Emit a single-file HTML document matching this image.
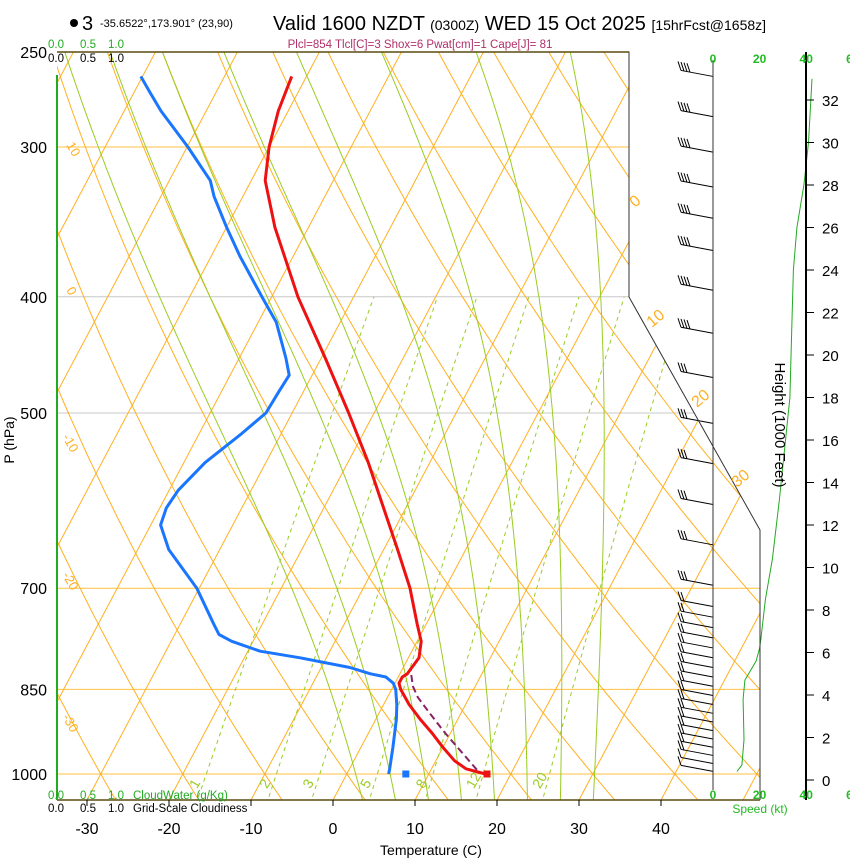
<!DOCTYPE html>
<html><head><meta charset="utf-8"><style>
html,body{margin:0;padding:0;background:#fff;}
svg{display:block;font-family:"Liberation Sans",sans-serif;}
</style></head><body>
<svg id="c" width="850" height="860" viewBox="0 0 850 860" xmlns="http://www.w3.org/2000/svg">
<defs><clipPath id="plotclip"><polygon points="57,52 629,52 629,297 760,530 760,800 57,800"/></clipPath></defs>
<g>
<circle cx="74" cy="23" r="4" fill="#000"/>
<text x="82" y="30" font-size="20">3</text>
<text x="100" y="27" font-size="11">-35.6522°,173.901° (23,90)</text>
<text x="273" y="30" font-size="20">Valid 1600 NZDT <tspan font-size="14">(0300Z)</tspan> WED 15 Oct 2025 <tspan font-size="14">[15hrFcst@1658z]</tspan></text>
<text x="420" y="48" font-size="11.5" fill="#b0306a" text-anchor="middle">Plcl=854 Tlcl[C]=3 Shox=6 Pwat[cm]=1 Cape[J]= 81</text>
</g>
<g id="bg" clip-path="url(#plotclip)"></g>
<g id="marks"></g>
<g id="axes"></g>
</svg>
<script>
const presT=[1000,990,975,950,925,900,875,850,840,830,825,800,775,750,700,650,600,550,500,450,400,350,320,300,280,262];
const tempT=[16.9,14.2,12.3,10.0,7.8,5.4,3.1,1.1,0.5,0.5,0.9,1.3,0.5,-1.1,-4.3,-8.3,-12.7,-17.5,-23.1,-29.5,-36.8,-44.1,-48.3,-50.0,-51.2,-51.8];
const presTd=[1000,990,950,900,875,850,840,830,825,815,800,790,775,765,750,700,650,620,600,580,550,520,500,480,465,450,420,400,370,350,330,320,300,280,270,262];
const tempTd=[5.1,4.9,3.9,2.5,1.6,0.5,-0.2,-1.5,-3.6,-6.5,-13.2,-18.5,-22.6,-24.6,-25.9,-30.3,-36.2,-38.8,-39.2,-38.9,-37.4,-34.8,-33.2,-33.0,-32.8,-34.3,-37.8,-41.2,-46.5,-50.0,-53.5,-55.0,-59.9,-65.5,-68.1,-70.2];
const parcelP=[992,959,924,890,863,845,816];
const parcelT=[15.6,12.6,9.3,6.2,3.7,2.4,0.9];
const sfcT=[17.1];
const sfcTd=[7.2];
const barbP=[262,283,303,324,344,366,395,429,467,510,551,596,644,696,725,740,755,770,785,800,815,830,845,860,875,890,905,920,935,950,965,980,995];
const barbSpd=[40,40,40,40,40,40,35,35,30,30,30,25,25,25,20,20,20,20,20,15,15,15,15,15,15,15,15,15,15,15,15,10,10];
const spdHeight=[0.4,0.7,1.9,3.8,4.7,5.6,6.2,6.6,8.5,10.4,13.2,18.0,22.0,24.0,26.0,28.0,30.0,33.0];
const spdValue=[10.3,12.4,13.3,12.9,13.7,18.5,20.0,20.5,22.5,25.5,28.5,33.0,34.0,34.5,36.0,39.0,41.0,42.5];
const pTicks=[250,300,400,500,700,850,1000];
const tTicks=[-30,-20,-10,0,10,20,30,40];
const hTicks=[0,2,4,6,8,10,12,14,16,18,20,22,24,26,28,30,32];
const spdTicks=[0,20,40,60];
const wTicks=[1,2,3,5,8,12,20];
const moistStarts=[4,8,12,16,20,24,28,32];

const NS="http://www.w3.org/2000/svg";
const X0=333,WT=8.2,K=0.53,Y1000=774,B=520.8;
function yOf(p){return Y1000+B*Math.log(p/1000);}
function xOf(T,p){return X0+WT*T+K*(800-yOf(p));}
function xSpd(s){return 713+s*2.33;}
function yH(h){return 780-h*21.25;}
function mk(tag,attrs,parent){const e=document.createElementNS(NS,tag);for(const k in attrs)e.setAttribute(k,attrs[k]);parent.appendChild(e);return e;}
const bg=document.getElementById('bg'),marks=document.getElementById('marks'),axes=document.getElementById('axes');
const OR="#ffb020",GR="#99cc22";
[250,300,400,500,700,850,1000].forEach(p=>{
  const l=mk('line',{x1:57,x2:760,y1:yOf(p),y2:yOf(p),stroke:(p>=700||p==300)?"#ffc040":"#c8c8c8","stroke-width":1},bg);
  
  
});
for(let T=-110;T<=50;T+=10){
  const l=mk('line',{x1:xOf(T,1060),y1:yOf(1060),x2:xOf(T,240),y2:yOf(240),stroke:OR,"stroke-width":1},bg);
  
  
}
for(let th=-40;th<=190;th+=10){
  let d="";for(let p=1060;p>=240;p-=10){const T=(th+273.15)*Math.pow(p/1000,0.2857)-273.15;d+=(d?"L":"M")+xOf(T,p).toFixed(1)+","+yOf(p).toFixed(1);}
  const l=mk('path',{d:d,fill:"none",stroke:OR,"stroke-width":1},bg);
  
  
}
function es(Tc){return 6.112*Math.exp(17.67*Tc/(Tc+243.5));}
moistStarts.forEach(t0=>{
  let T=t0+273.15,d="";
  for(let p=1060;p>=240;p-=2){
    d+=(d?"L":"M")+xOf(T-273.15,p).toFixed(1)+","+yOf(p).toFixed(1);
    const e=es(T-273.15),rs=0.622*e/(p-e);
    const dTdp=(287*T+2.5e6*rs)/(p*(1005+2.5e6*2.5e6*rs*0.622/(287*T*T)));
    T-=dTdp*2;
  }
  const l=mk('path',{d:d,fill:"none",stroke:GR,"stroke-width":1},bg);
  
  
});
wTicks.forEach(w=>{
  let d="";
  for(let p=1060;p>=400;p-=10){const e=w*p/(622+w);const lg=Math.log(e/6.112);const Td=243.5*lg/(17.67-lg);d+=(d?"L":"M")+xOf(Td,p).toFixed(1)+","+yOf(p).toFixed(1);}
  const l=mk('path',{d:d,fill:"none",stroke:GR,"stroke-width":1,"stroke-dasharray":"4,4"},bg);
  
  
  const e=w*1000/(622+w),lg=Math.log(e/6.112),Td=243.5*lg/(17.67-lg);
  const lx=xOf(Td,1020)-4,ly=yOf(1020)+5;
  const t=mk('text',{x:lx,y:ly,"font-size":14,fill:GR,transform:`rotate(-60 ${lx} ${ly})`},axes);
  t.textContent=w;
  
  
});
const bd=mk('path',{d:"M57,52 L629,52 L629,297 L760,530 L760,800",fill:"none",stroke:"#333","stroke-width":1},axes);


const bl=mk('line',{x1:57,x2:760,y1:800,y2:800,stroke:"#5a4a10","stroke-width":1.5},axes);


const tl=mk('line',{x1:57,x2:629,y1:52,y2:52,stroke:"#5a4a10","stroke-width":1.5},axes);


const cw=mk('line',{x1:57,x2:57,y1:75,y2:800,stroke:"#22aa22","stroke-width":2},axes);


[[66,145,"10"],[66,290,"0"],[62,437,"-10"],[62,575,"-20"],[62,717,"-30"]].forEach(a=>{
  const t=mk('text',{x:a[0],y:a[1],"font-size":13,fill:OR,transform:`rotate(60 ${a[0]} ${a[1]})`},axes);t.textContent=a[2];
  
  
});
[[635,208,"0"],[652,328,"10"],[697,408,"20"],[737,488,"30"]].forEach(a=>{
  const t=mk('text',{x:a[0],y:a[1],"font-size":16,fill:OR,transform:`rotate(-40 ${a[0]} ${a[1]})`},axes);t.textContent=a[2];
  
  
});
pTicks.forEach(p=>{
  const t=mk('text',{x:47,y:yOf(p)+6,"font-size":16,"text-anchor":"end"},axes);t.textContent=p;
  
  
});
const yt=mk('text',{x:14,y:440,"font-size":14,"text-anchor":"middle",transform:"rotate(-90 14 440)"},axes);yt.textContent="P (hPa)";


tTicks.forEach(T=>{
  const x=X0+WT*T;
  mk('line',{x1:x,x2:x,y1:800,y2:806,stroke:"#000"},axes);
  const t=mk('text',{x:x,y:834,"font-size":16,"text-anchor":"middle"},axes);t.textContent=T;
  
  
});
const xt=mk('text',{x:431,y:855,"font-size":14,"text-anchor":"middle"},axes);xt.textContent="Temperature (C)";


// cloud scale labels
const cloudVals=["0.0","0.5","1.0"];
const cloudX=[48,80,108];
[[799,"#22aa22","CloudWater (g/Kg)","cloudwater-legend"],[812,"#000","Grid-Scale Cloudiness","cloudiness-legend"],[48,"#22aa22","","cloudwater-scale-top"],[62,"#000","","cloudiness-scale-top"]].forEach(a=>{
  const g=mk('g',{"font-size":11.5,fill:a[1]},axes);
  
  
  cloudVals.forEach((v,i)=>{const t=mk('text',{x:cloudX[i],y:a[0]},g);t.textContent=v;});
  if(a[2]){const t=mk('text',{x:133,y:a[0]},g);t.textContent=a[2];}
});
const st=mk('line',{x1:713,x2:713,y1:60,y2:790,stroke:"#333",'stroke-width':1},axes);


const ha=mk('line',{x1:806,x2:806,y1:52,y2:800,stroke:"#000","stroke-width":2},axes);


hTicks.forEach(h=>{
  mk('line',{x1:806,x2:814,y1:yH(h),y2:yH(h),stroke:"#000"},axes);
  const t=mk('text',{x:822,y:yH(h)+6,"font-size":15},axes);t.textContent=h;
  
  
});
spdTicks.forEach(s=>{
  [63,799].forEach(yy=>{
    const t=mk('text',{x:xSpd(s),y:yy,"font-size":12,"font-weight":"bold",fill:"#22bb22","text-anchor":"middle"},axes);t.textContent=s;
    
    
  });
});
const sl=mk('text',{x:760,y:813,"font-size":12,fill:"#22bb22","text-anchor":"middle"},axes);sl.textContent="Speed (kt)";


const ht=mk('text',{x:775,y:425,"font-size":15,"text-anchor":"middle",transform:"rotate(90 775 425)"},axes);ht.textContent="Height (1000 Feet)";


let sd="";spdHeight.forEach((h,i)=>{sd+=(i?"L":"M")+xSpd(spdValue[i]).toFixed(1)+","+yH(h).toFixed(1);});
const sp=mk('path',{d:sd,fill:"none",stroke:"#22aa22","stroke-width":1},marks);


barbP.forEach((p,i)=>{
  const y=yOf(p),x2=681,y2=y-6;
  const g=mk('g',{},marks);
  
  
  mk('line',{x1:713,y1:y,x2:x2,y2:y2,stroke:"#000","stroke-width":1},g);
  const n=Math.round(barbSpd[i]/10);
  for(let j=0;j<n;j++){const bx=x2+j*3,by=y2+j*0.6;mk('line',{x1:bx,y1:by,x2:bx-3,y2:by-9,stroke:"#000","stroke-width":1},g);}
});
function pathOf(P,T){return P.map((p,i)=>(i?"L":"M")+xOf(T[i],p).toFixed(1)+","+yOf(p).toFixed(1)).join("");}
const tdL=mk('path',{d:pathOf(presTd,tempTd),fill:"none",stroke:"#1a75ff","stroke-width":3,"stroke-linejoin":"round"},marks);


const pcL=mk('path',{d:pathOf(parcelP,parcelT),fill:"none",stroke:"#882266","stroke-width":2,"stroke-dasharray":"7,4"},marks);


const tL=mk('path',{d:pathOf(presT,tempT),fill:"none",stroke:"#ee1111","stroke-width":3,"stroke-linejoin":"round"},marks);


const d1=mk('rect',{x:xOf(sfcT[0],1000)-3.5,y:yOf(1000)-3.5,width:7,height:7,fill:"#ee1111"},marks);


const d2=mk('rect',{x:xOf(sfcTd[0],1000)-3.5,y:yOf(1000)-3.5,width:7,height:7,fill:"#1a75ff"},marks);


</script>
</body></html>
